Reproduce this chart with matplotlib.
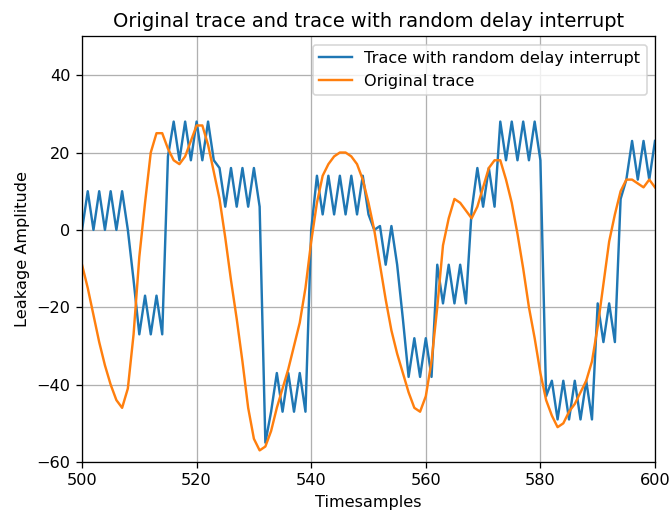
import numpy as np
import matplotlib
matplotlib.use("Agg")
import matplotlib.pyplot as plt

# timesample index shown in the plot window
timesamples = np.arange(500, 601)

# trace with random delay interrupt
delayed_trace = [
    0, 10, 0, 10, 0, 10, 0, 10, 0, -13,
    -27, -17, -27, -17, -27, 19, 28, 18, 28, 18,
    28, 18, 28, 18, 16, 6, 16, 6, 16, 6,
    16, 6, -55, -47, -37, -47, -37, -47, -37, -47,
    0, 14, 4, 14, 4, 14, 4, 14, 4, 14,
    4, 0, 1, -9, 1, -9, -23, -38, -28, -38,
    -28, -38, -9, -19, -9, -19, -9, -19, 5, 16,
    6, 16, 6, 28, 18, 28, 18, 28, 18, 28,
    18, -43, -39, -49, -39, -49, -39, -49, -39, -49,
    -19, -29, -19, -29, 8, 13, 23, 13, 23, 13,
    23,
]

# original trace
original_trace = [
    -9, -15, -22, -29, -35, -40, -44, -46, -41, -27,
    -7, 7, 20, 25, 25, 21, 18, 17, 19, 23,
    27, 27, 22, 15, 8, -2, -13, -23, -34, -46,
    -54, -57, -56, -52, -46, -41, -36, -30, -24, -15,
    -3, 7, 14, 17, 19, 20, 20, 19, 17, 13,
    7, 0, -9, -18, -26, -32, -37, -42, -46, -47,
    -43, -34, -20, -4, 3, 8, 7, 5, 3, 6,
    11, 16, 18, 18, 13, 7, -1, -10, -20, -28,
    -37, -44, -48, -51, -50, -47, -45, -42, -39, -34,
    -25, -14, -3, 4, 10, 13, 13, 12, 11, 13,
    11,
]

DPI = 116
fig = plt.figure(figsize=(670 / DPI, 511 / DPI), dpi=DPI)
ax = fig.add_axes([0.1224, 0.0959, 0.8552, 0.8327])

ax.plot(timesamples, delayed_trace, label='Trace with random delay interrupt')
ax.plot(timesamples, original_trace, label='Original trace')

ax.set_xlim(500, 600)
ax.set_ylim(-60, 50)
ax.set_yticks(np.arange(-60, 41, 20))
ax.grid(True)
ax.legend(loc='upper right')
ax.set_title('Original trace and trace with random delay interrupt')
ax.set_xlabel('Timesamples')
ax.set_ylabel('Leakage Amplitude')

fig.savefig('out.png', dpi=DPI)
